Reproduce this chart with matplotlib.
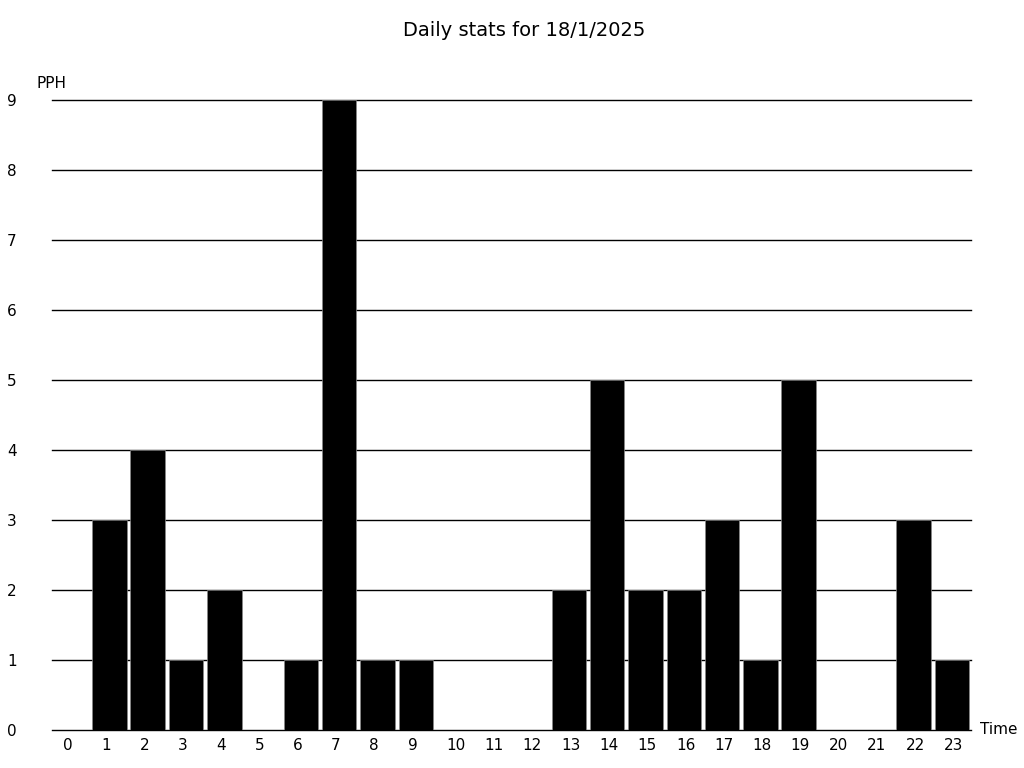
import matplotlib
matplotlib.use("Agg")
import matplotlib.pyplot as plt
import matplotlib.transforms as mtransforms

hours = list(range(24))
hour_labels = [str(h) for h in hours]
pph = [0, 3, 4, 1, 2, 0, 1, 9, 1, 1, 0, 0, 0, 2, 5, 2, 2, 3, 1, 5, 0, 0, 3, 1]
y_ticks = list(range(10))

fig = plt.figure(figsize=(10.24, 7.68), dpi=100)
ax = fig.add_axes([52/1024, 1-730/768, (971-52)/1024, (730-100)/768])

ax.set_xlim(-0.5, 23.5)
ax.set_ylim(0, 9)
ax.set_yticks(y_ticks)
for y in y_ticks:
    ax.axhline(y, color="black", linewidth=1, zorder=1, clip_on=False)
ax.bar(hours, pph, width=0.9, color="black", edgecolor="#888888", linewidth=0.5, zorder=2)

for s in ax.spines.values():
    s.set_visible(False)

ax.set_xticks(hours)
ax.set_xticklabels([])
ax.tick_params(axis="x", length=0)
off = mtransforms.ScaledTranslation(-8/100, -15/100, fig.dpi_scale_trans)
trans = ax.get_xaxis_transform() + off
for h, lab in zip(hours, hour_labels):
    ax.text(h, 0, lab, transform=trans, fontsize=11, ha="left", va="center")

ax.set_yticklabels([str(y) for y in y_ticks], fontsize=11, ha="left")
ax.tick_params(axis="y", length=0, pad=45*72/100)

fig.text(37/1024, 1-84/768, "PPH", fontsize=11, va="center", ha="left")
fig.text(980/1024, 1-730/768, "Time", fontsize=11, va="center", ha="left")
fig.text(0.5*(400+649)/1024, 1-31/768, "Daily stats for 18/1/2025", fontsize=14, ha="center", va="center")

fig.savefig("out.png", dpi=100)
